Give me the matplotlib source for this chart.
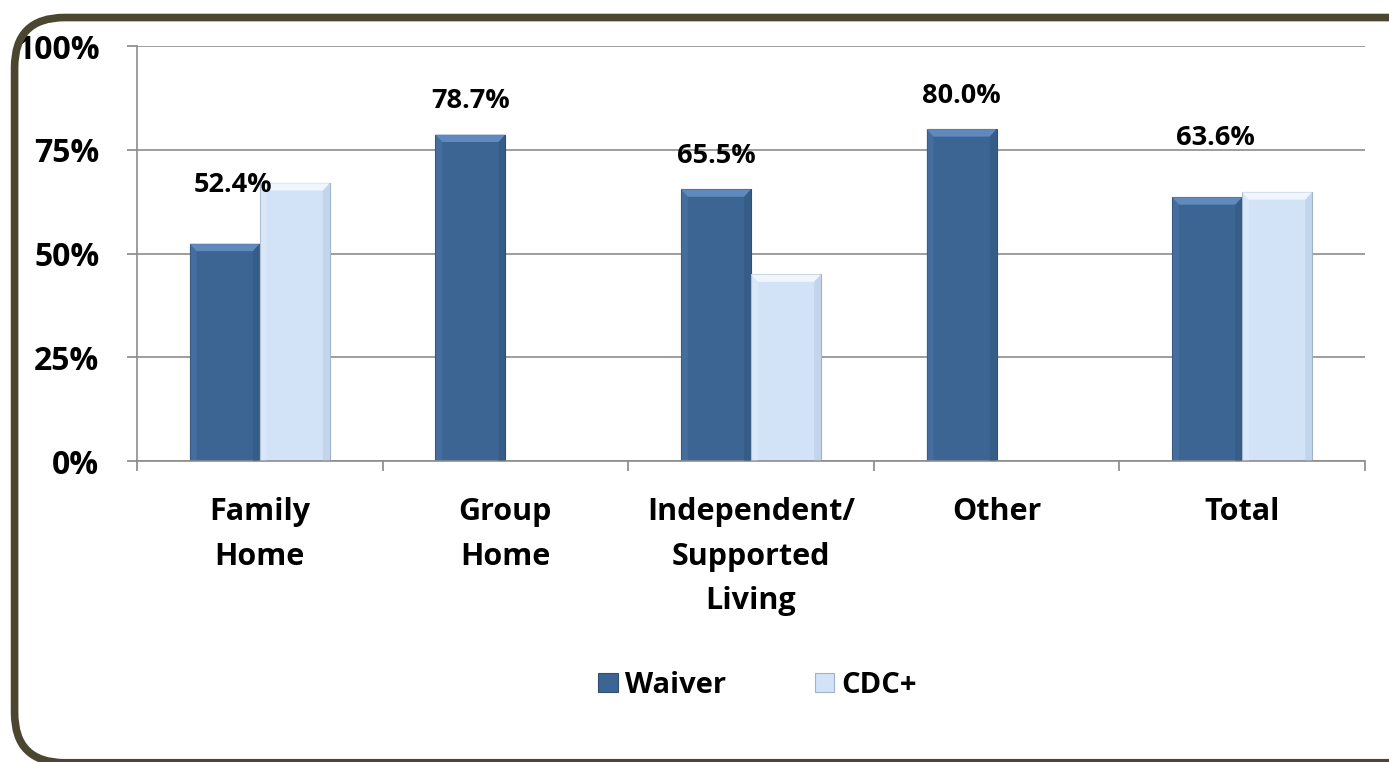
import numpy as np
import matplotlib
matplotlib.use("Agg")
import matplotlib.pyplot as plt
from matplotlib.patches import FancyBboxPatch, Polygon, Patch, Rectangle
from matplotlib.legend_handler import HandlerPatch

plt.rcParams['font.family'] = ['Open Sans', 'DejaVu Sans']
plt.rcParams['font.weight'] = 'bold'

# data
categories = ["Family\nHome", "Group\nHome", "Independent/\nSupported\nLiving", "Other", "Total"]
waiver = [52.4, 78.7, 65.5, 80.0, 63.6]
cdc_plus = [67.0, np.nan, 45.0, np.nan, 64.8]
yticks = [0, 25, 50, 75, 100]

waiver_col = "#3c6594"
waiver_top = "#6a94c8"
waiver_side = "#2c4d74"
cdc_col = "#d2e3f8"
cdc_top = "#f7fbff"
cdc_side = "#a9bdd6"

fig = plt.figure(figsize=(13.89, 7.62), dpi=100)
ax = fig.add_axes([0.0986, 0.395, 0.8841, 0.5444])

# rounded frame round the whole chart
frame = FancyBboxPatch((0.0105, -0.001), 1.1, 0.978, transform=fig.transFigure,
                       boxstyle="round,pad=0,rounding_size=0.036", mutation_aspect=1389 / 762,
                       facecolor="none", edgecolor="#4b4630", linewidth=5.5, clip_on=False)
fig.patches.append(frame)

x = np.arange(len(categories))
w = 0.285


def bevel(bar, top, side):
    # light top facet and darker right facet to give the bars some depth
    x0, y0 = bar.get_x(), bar.get_y()
    bw, bh = bar.get_width(), bar.get_height()
    if not np.isfinite(bh) or bh <= 0:
        return
    dx, dy = 0.028, 1.8
    ax.add_patch(Polygon([(x0, y0 + bh), (x0 + bw, y0 + bh), (x0 + bw - dx, y0 + bh - dy),
                          (x0 + dx, y0 + bh - dy)], closed=True, facecolor=top,
                         edgecolor="none", alpha=0.8, zorder=3))
    ax.add_patch(Polygon([(x0 + bw, y0), (x0 + bw, y0 + bh), (x0 + bw - dx, y0 + bh - dy),
                          (x0 + bw - dx, y0)], closed=True, facecolor=side,
                         edgecolor="none", alpha=0.35, zorder=3))
    ax.add_patch(Polygon([(x0, y0), (x0, y0 + bh), (x0 + dx, y0 + bh - dy),
                          (x0 + dx, y0)], closed=True, facecolor=top,
                         edgecolor="none", alpha=0.2, zorder=3))


bars_w = ax.bar(x - w / 2, waiver, w, color=waiver_col, edgecolor="#2f4f75", linewidth=0.8, zorder=2)
bars_c = ax.bar(x + w / 2, cdc_plus, w, color=cdc_col, edgecolor="#9fb2c9", linewidth=0.8, zorder=2)
for b in bars_w:
    bevel(b, waiver_top, waiver_side)
for b in bars_c:
    bevel(b, cdc_top, cdc_side)

# value labels on the Waiver bars, pushed up and over where the CDC+ bar is taller
for xi, v, c in zip(x, waiver, cdc_plus):
    lifted = np.isfinite(c) and c > v
    off = 14.2 if lifted else 8.0
    shift = 0.032 if lifted else 0.0
    ax.text(xi - w / 2 + shift, v + off, f"{v:.1f}%", ha="center", va="center",
            fontsize=19.5, fontweight="bold", color="black", zorder=4)

ax.set_xlim(-0.5, len(categories) - 0.5)
ax.set_ylim(0, 100)
ax.set_yticks(yticks)
ax.set_yticklabels([f"{t}%" for t in yticks], fontsize=23, fontweight="bold")
ax.set_xticks(np.arange(len(categories) + 1) - 0.5)
ax.set_xticklabels([])
ax.set_xticks(x, minor=True)
ax.set_xticklabels(categories, minor=True, fontsize=22, fontweight="bold", linespacing=1.63)
ax.tick_params(axis="x", which="minor", length=0, pad=26)
ax.tick_params(axis="x", which="major", length=7, color="#888888", width=1.2)
ax.tick_params(axis="y", length=7, color="#888888", width=1.2, pad=20)

ax.grid(axis="y", color="#8c8c8c", linewidth=1.2, zorder=0)
ax.set_axisbelow(True)
for s in ["top", "right"]:
    ax.spines[s].set_visible(False)
for s in ["left", "bottom"]:
    ax.spines[s].set_color("#8c8c8c")
    ax.spines[s].set_linewidth(1.2)


class SquareHandler(HandlerPatch):
    def create_artists(self, legend, orig_handle, xdescent, ydescent, width, height, fontsize, trans):
        side = height * 0.95
        p = Rectangle((width - side - xdescent, -ydescent + (height - side) / 2),
                      side, side, facecolor=orig_handle.get_facecolor(),
                      edgecolor=orig_handle.get_edgecolor(), linewidth=0.8, transform=trans)
        return [p]


handles = [Patch(facecolor=waiver_col, edgecolor="#2f4f75"),
           Patch(facecolor=cdc_col, edgecolor="#9fb2c9")]
fig.legend(handles, ["Waiver", "CDC+"], loc="center", bbox_to_anchor=(0.545, 0.101),
           ncol=2, frameon=False, prop={"weight": "bold", "size": 21},
           handler_map={Patch: SquareHandler()}, handlelength=0.7, handletextpad=0.25,
           columnspacing=3.0)

fig.savefig("out.png", dpi=100, facecolor="white")
